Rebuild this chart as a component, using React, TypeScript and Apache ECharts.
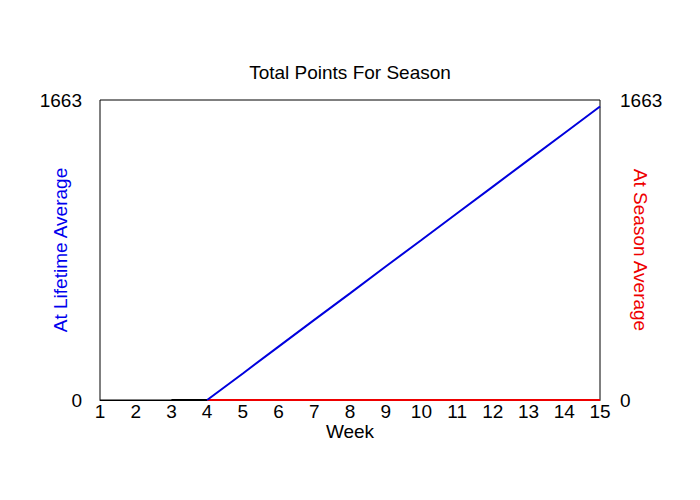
import React, { useEffect, useRef } from "react";
import * as echarts from "echarts";

const weeks = ["1", "2", "3", "4", "5", "6", "7", "8", "9", "10", "11", "12", "13", "14", "15"];
const lifetimeAvg = [null, null, null, 0, 147, 296, 444, 591, 740, 887, 1035, 1183, 1331, 1479, 1627];
const seasonAvg = [null, null, null, 0, 0, 0, 0, 0, 0, 0, 0, 0, 0, 0, 0];
const actual = [null, null, 0, 0, null, null, null, null, null, null, null, null, null, null, null];
const yMax = 1663;

const FONT = "Liberation Sans, Arial, sans-serif";

export default function App() {
  const ref = useRef<HTMLDivElement>(null);
  useEffect(() => {
    document.body.style.margin = "0";
    const chart = echarts.init(ref.current!, null, { renderer: "svg" });
    chart.setOption({
      animation: false,
      backgroundColor: "#ffffff",
      title: {
        text: "Total Points For Season",
        left: "center",
        top: 58,
        textStyle: { fontFamily: FONT, fontSize: 19, fontWeight: "normal", color: "#000" },
      },
      grid: {
        left: 100,
        right: 100,
        top: 100,
        bottom: 100,
        show: true,
        borderColor: "#000",
        borderWidth: 1,
        backgroundColor: "transparent",
      },
      xAxis: {
        type: "category",
        data: weeks,
        boundaryGap: false,
        name: "Week",
        nameLocation: "middle",
        nameGap: 22,
        nameMoveOverlap: false,
        nameTextStyle: { fontFamily: FONT, fontSize: 19, color: "#000" },
        axisLine: { show: true, lineStyle: { color: "#000", width: 1 } },
        axisTick: { show: false },
        axisLabel: { fontFamily: FONT, fontSize: 19, color: "#000", margin: 2, interval: 0 },
        splitLine: { show: false },
      },
      yAxis: [
        {
          type: "value",
          min: 0,
          max: yMax,
          interval: yMax,
          name: "At Lifetime Average",
          nameLocation: "middle",
          nameGap: 30,
          nameMoveOverlap: false,
          nameTextStyle: { fontFamily: FONT, fontSize: 19, color: "#0000ee" },
          axisLine: { show: false },
          axisTick: { show: false },
          splitLine: { show: false },
          axisLabel: { fontFamily: FONT, fontSize: 19, color: "#000", margin: 18, formatter: (v: number) => String(v) },
        },
        {
          type: "value",
          min: 0,
          max: yMax,
          interval: yMax,
          position: "right",
          name: "At Season Average",
          nameLocation: "middle",
          nameRotate: -90,
          nameGap: 31,
          nameMoveOverlap: false,
          nameTextStyle: { fontFamily: FONT, fontSize: 19, color: "#ee0000" },
          axisLine: { show: false },
          axisTick: { show: false },
          splitLine: { show: false },
          axisLabel: { fontFamily: FONT, fontSize: 19, color: "#000", margin: 20, formatter: (v: number) => String(v) },
        },
      ],
      series: [
        {
          name: "Actual",
          type: "line",
          data: actual,
          yAxisIndex: 0,
          showSymbol: false,
          lineStyle: { color: "#000", width: 2 },
          z: 3,
        },
        {
          name: "At Season Average",
          type: "line",
          data: seasonAvg,
          yAxisIndex: 1,
          showSymbol: false,
          lineStyle: { color: "#ee0000", width: 2 },
          z: 4,
        },
        {
          name: "At Lifetime Average",
          type: "line",
          data: lifetimeAvg,
          yAxisIndex: 0,
          showSymbol: false,
          lineStyle: { color: "#0000dd", width: 2 },
          z: 5,
        },
      ],
    });
    return () => chart.dispose();
  }, []);
  return <div ref={ref} style={{ width: 700, height: 500 }} />;
}
